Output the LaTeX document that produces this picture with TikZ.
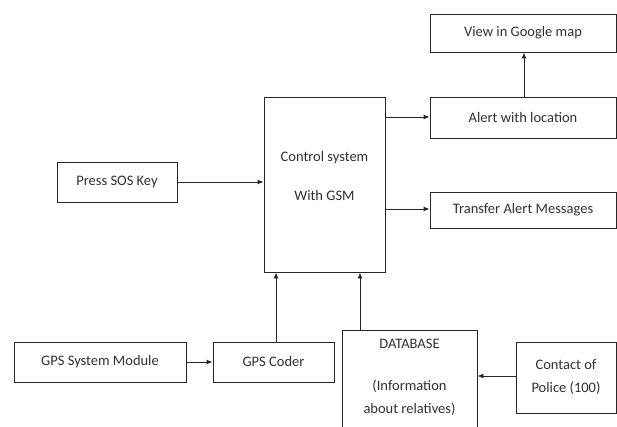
\documentclass[tikz,border=0pt]{standalone}
\usepackage{fontspec}
\setmainfont{Carlito}
\usetikzlibrary{arrows.meta}
\definecolor{ln}{HTML}{262626}
\definecolor{tx}{HTML}{303030}
\begin{document}
\begin{tikzpicture}[x=1pt,y=-1pt,
  box/.style={draw=ln,line width=0.95pt,rectangle,inner sep=0pt,text=tx,font=\fontsize{14.5}{23}\selectfont},
  txt/.style={text=tx,font=\fontsize{14.5}{23}\selectfont,inner sep=0pt,align=center},
  arr/.style={draw=ln,line width=0.95pt,-{Latex[length=6pt,width=5pt]}}]
\useasboundingbox (0,0) rectangle (617,427);
\clip (0,0) rectangle (617,427);
\node[box,minimum width=186pt,minimum height=38pt] (view) at (523,33) {View in Google map};
\node[box,minimum width=186pt,minimum height=41pt] (alert) at (523,117.5) {Alert with location};
\node[box,minimum width=186pt,minimum height=36pt] (transfer) at (523,210) {Transfer Alert Messages};
\node[box,minimum width=121pt,minimum height=175pt] (ctrl) at (324.5,184.5) {};
\node[txt] (ctext) at (324.5,176.5) {Control system\\[16pt]With GSM};
\node[box,minimum width=120pt,minimum height=40pt] (sos) at (117,182) {Press SOS Key};
\node[box,minimum width=172pt,minimum height=40pt] (gpsm) at (100,362) {GPS System Module};
\node[box,minimum width=121pt,minimum height=40pt] (coder) at (273.5,362) {GPS Coder};
\node[box,minimum width=135pt,minimum height=110pt] (db) at (409.5,385) {};
\node[txt,anchor=north] (dbtext) at (409.5,339) {DATABASE\\[19pt](Information\\about relatives)};
\node[box,minimum width=100pt,minimum height=71pt,align=center] (police) at (566,377.5) {Contact of\\Police (100)};
\draw[arr] (sos.east) -- (ctrl.west |- sos.east);
\draw[arr] (ctrl.east |- 0,117) -- (alert.west |- 0,117);
\draw[arr] (ctrl.east |- 0,209) -- (transfer.west |- 0,209);
\draw[arr] (alert.north -| 524,0) -- (view.south -| 524,0);
\draw[arr] (gpsm.east) -- (coder.west);
\draw[arr] (coder.north -| 276,0) -- (ctrl.south -| 276,0);
\draw[arr] (db.north -| 360,0) -- (ctrl.south -| 360,0);
\draw[arr] (police.west |- 0,376) -- (db.east |- 0,376);
\end{tikzpicture}
\end{document}
